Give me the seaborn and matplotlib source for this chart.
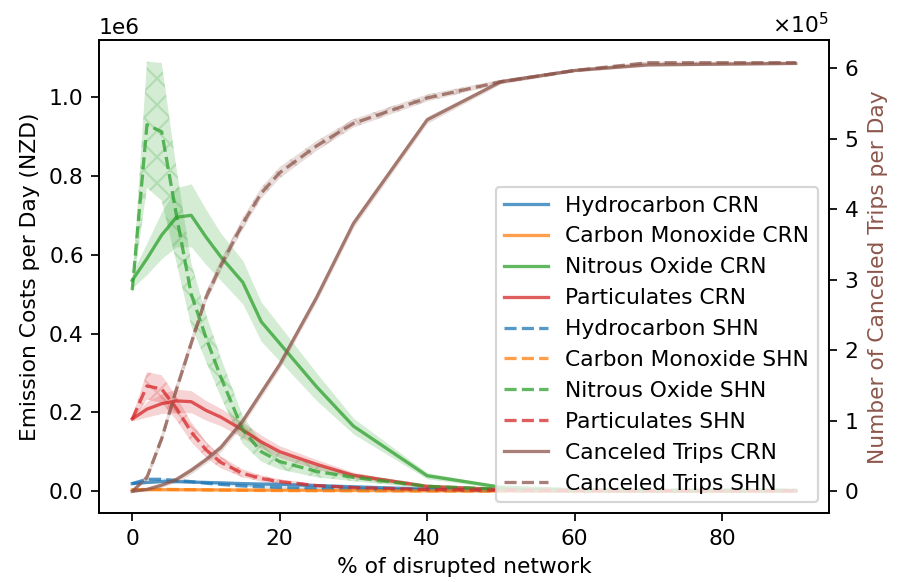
import numpy as np
import matplotlib
matplotlib.use("Agg")
import matplotlib.pyplot as plt
import seaborn as sns

# % of disrupted network
x = [0, 2, 4, 6, 8, 10, 12, 15, 17.5, 20, 25, 30, 40, 50, 60, 70, 80, 90]

# Emission costs per day (NZD), CRN
hc_crn = [0.019e6, 0.022e6, 0.024e6, 0.024e6, 0.023e6, 0.022e6, 0.021e6, 0.019e6, 0.018e6, 0.017e6, 0.014e6, 0.011e6, 0.005e6, 0.002e6, 0.001e6, 0.0005e6, 0.0003e6, 0.0002e6]
co_crn = [0.003e6, 0.0035e6, 0.0035e6, 0.0035e6, 0.0034e6, 0.0033e6, 0.003e6, 0.0028e6, 0.0026e6, 0.0024e6, 0.002e6, 0.0016e6, 0.0008e6, 0.0003e6, 0.0001e6, 0.0001e6, 0.0e6, 0.0e6]
no_crn = [0.535e6, 0.59e6, 0.65e6, 0.695e6, 0.70e6, 0.645e6, 0.595e6, 0.53e6, 0.43e6, 0.375e6, 0.265e6, 0.165e6, 0.039e6, 0.010e6, 0.004e6, 0.002e6, 0.002e6, 0.002e6]
pm_crn = [0.183e6, 0.208e6, 0.222e6, 0.229e6, 0.227e6, 0.205e6, 0.188e6, 0.155e6, 0.125e6, 0.100e6, 0.068e6, 0.040e6, 0.012e6, 0.004e6, 0.002e6, 0.001e6, 0.001e6, 0.001e6]
# Emission costs per day (NZD), SHN
hc_shn = [0.019e6, 0.030e6, 0.030e6, 0.027e6, 0.024e6, 0.020e6, 0.017e6, 0.013e6, 0.011e6, 0.009e6, 0.007e6, 0.005e6, 0.003e6, 0.001e6, 0.0005e6, 0.0003e6, 0.0002e6, 0.0002e6]
co_shn = [0.003e6, 0.0045e6, 0.0045e6, 0.004e6, 0.0035e6, 0.003e6, 0.0025e6, 0.002e6, 0.0017e6, 0.0014e6, 0.001e6, 0.0008e6, 0.0004e6, 0.0002e6, 0.0001e6, 0.0e6, 0.0e6, 0.0e6]
no_shn = [0.51e6, 0.93e6, 0.912e6, 0.70e6, 0.50e6, 0.39e6, 0.29e6, 0.155e6, 0.10e6, 0.075e6, 0.05e6, 0.035e6, 0.012e6, 0.005e6, 0.002e6, 0.002e6, 0.002e6, 0.002e6]
pm_shn = [0.183e6, 0.267e6, 0.259e6, 0.21e6, 0.15e6, 0.105e6, 0.073e6, 0.045e6, 0.032e6, 0.024e6, 0.014e6, 0.009e6, 0.004e6, 0.002e6, 0.001e6, 0.001e6, 0.001e6, 0.001e6]

# Half-widths of the shaded bands
no_crn_err = [0.02e6, 0.04e6, 0.06e6, 0.075e6, 0.08e6, 0.07e6, 0.06e6, 0.055e6, 0.05e6, 0.045e6, 0.035e6, 0.02e6, 0.008e6, 0.003e6, 0.001e6, 0.001e6, 0.001e6, 0.001e6]
no_shn_err = [0.01e6, 0.16e6, 0.175e6, 0.12e6, 0.08e6, 0.06e6, 0.05e6, 0.035e6, 0.025e6, 0.02e6, 0.015e6, 0.01e6, 0.005e6, 0.002e6, 0.001e6, 0.001e6, 0.001e6, 0.001e6]
pm_crn_err = [0.005e6, 0.02e6, 0.025e6, 0.03e6, 0.028e6, 0.025e6, 0.022e6, 0.02e6, 0.017e6, 0.015e6, 0.012e6, 0.008e6, 0.003e6, 0.001e6, 0.001e6, 0.001e6, 0.001e6, 0.001e6]
pm_shn_err = [0.005e6, 0.035e6, 0.035e6, 0.03e6, 0.025e6, 0.02e6, 0.015e6, 0.01e6, 0.008e6, 0.006e6, 0.004e6, 0.003e6, 0.001e6, 0.001e6, 0.001e6, 0.001e6, 0.001e6, 0.001e6]
hc_err = [0.002e6] * len(x)
co_err = [0.0005e6] * len(x)

# Canceled trips per day
ct_crn = [0.0, 0.03e5, 0.09e5, 0.17e5, 0.30e5, 0.45e5, 0.62e5, 1.0e5, 1.4e5, 1.8e5, 2.75e5, 3.8e5, 5.27e5, 5.81e5, 5.97e5, 6.05e5, 6.06e5, 6.07e5]
ct_shn = [0.0, 0.2e5, 0.75e5, 1.45e5, 2.1e5, 2.75e5, 3.2e5, 3.8e5, 4.23e5, 4.52e5, 4.9e5, 5.22e5, 5.58e5, 5.81e5, 5.97e5, 6.08e5, 6.08e5, 6.08e5]
ct_crn_err = [0.005e5, 0.02e5, 0.03e5, 0.04e5, 0.05e5, 0.05e5, 0.06e5, 0.06e5, 0.06e5, 0.06e5, 0.06e5, 0.06e5, 0.05e5, 0.03e5, 0.02e5, 0.02e5, 0.015e5, 0.015e5]
ct_shn_err = [0.005e5, 0.05e5, 0.07e5, 0.08e5, 0.08e5, 0.08e5, 0.08e5, 0.08e5, 0.08e5, 0.08e5, 0.07e5, 0.06e5, 0.05e5, 0.03e5, 0.02e5, 0.015e5, 0.015e5, 0.015e5]

C_BLUE, C_ORANGE, C_GREEN, C_RED, C_BROWN = "#1f77b4", "#ff7f0e", "#2ca02c", "#d62728", "#8c564b"

DPI = 157
fig, ax = plt.subplots(figsize=(902 / DPI, 582 / DPI), dpi=DPI)
fig.subplots_adjust(left=0.1098, right=0.919, bottom=0.118, top=0.931)
ax2 = ax.twinx()

xa = np.array(x)

def band(a, vals, err, color, hatch=None):
    v = np.array(vals)
    e = np.array(err)
    a.fill_between(xa, v - e, v + e, facecolor=color, edgecolor=color, alpha=0.2,
                   hatch=hatch, linewidth=0)

series = [
    (hc_crn, hc_err, C_BLUE, "-", "Hydrocarbon CRN", None),
    (co_crn, co_err, C_ORANGE, "-", "Carbon Monoxide CRN", None),
    (no_crn, no_crn_err, C_GREEN, "-", "Nitrous Oxide CRN", None),
    (pm_crn, pm_crn_err, C_RED, "-", "Particulates CRN", None),
    (hc_shn, hc_err, C_BLUE, "--", "Hydrocarbon SHN", "xx"),
    (co_shn, co_err, C_ORANGE, "--", "Carbon Monoxide SHN", "xx"),
    (no_shn, no_shn_err, C_GREEN, "--", "Nitrous Oxide SHN", "xx"),
    (pm_shn, pm_shn_err, C_RED, "--", "Particulates SHN", "xx"),
]

for vals, err, color, ls, label, hatch in series:
    band(ax, vals, err, color, hatch)
    sns.lineplot(x=x, y=vals, ax=ax, color=color, linestyle=ls, alpha=0.75,
                 linewidth=1.5, label=label, legend=False)

band(ax2, ct_crn, ct_crn_err, C_BROWN)
sns.lineplot(x=x, y=ct_crn, ax=ax2, color=C_BROWN, linestyle="-", alpha=0.75,
             linewidth=1.5, label="Canceled Trips CRN", legend=False)
band(ax2, ct_shn, ct_shn_err, C_BROWN, "xx")
sns.lineplot(x=x, y=ct_shn, ax=ax2, color=C_BROWN, linestyle="--", alpha=0.75,
             linewidth=1.5, label="Canceled Trips SHN", legend=False)

ax.set_xlabel("% of disrupted network")
ax.set_ylabel("Emission Costs per Day (NZD)")
ax2.set_ylabel("Number of Canceled Trips per Day", color=C_BROWN)
ax2.ticklabel_format(axis="y", style="sci", scilimits=(0, 0), useMathText=True)

h1, l1 = ax.get_legend_handles_labels()
h2, l2 = ax2.get_legend_handles_labels()
ax2.legend(h1 + h2, l1 + l2, loc="lower right")

fig.savefig("out.png", dpi=DPI)
